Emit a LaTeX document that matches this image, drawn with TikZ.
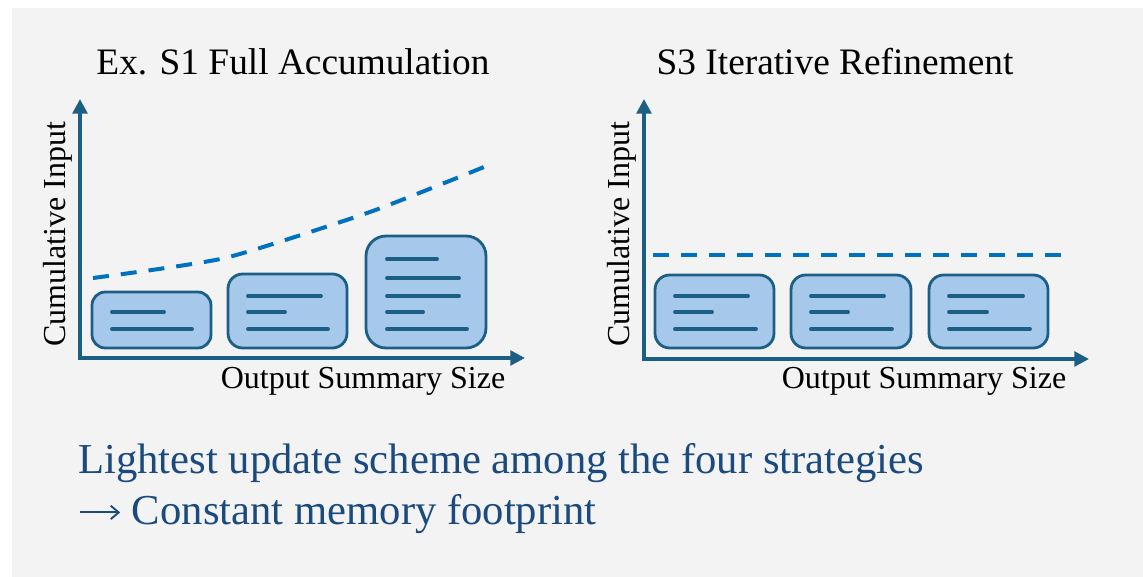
\documentclass[tikz,border=0pt]{standalone}
\usepackage{fontspec}
\setmainfont{Liberation Serif}
\usetikzlibrary{arrows.meta}
\definecolor{panelgray}{HTML}{F3F3F3}
\definecolor{axisblue}{HTML}{1C5F85}
\definecolor{boxfill}{HTML}{A6C8EA}
\definecolor{dashblue}{HTML}{0070C0}
\definecolor{noteblue}{HTML}{1B4A7E}
\tikzset{
  axis/.style={draw=axisblue, line width=2.6pt, -{Triangle[length=11pt,width=11pt]}},
  doc/.style={draw=axisblue, fill=boxfill, line width=2.1pt, rounded corners=#1},
  doc/.default=10pt,
  txtline/.style={draw=axisblue, line width=2.9pt, line cap=round},
  trend/.style={draw=dashblue, line width=3pt, dash pattern=on 12pt off 9pt},
  ttl/.style={font=\fontsize{28}{32}\selectfont, text=black, inner sep=0pt},
  lbl/.style={font=\fontsize{24}{28}\selectfont, text=black, inner sep=0pt},
  note/.style={font=\fontsize{32}{38}\selectfont, text=noteblue, inner sep=0pt, anchor=west}
}
% long thin text arrow for the takeaway line
\newcommand{\notearrow}{\tikz[baseline=-9pt]\draw[draw=noteblue, line width=1.4pt,
  -{Straight Barb[length=6pt,width=10pt,line width=1.4pt]}] (0pt,0pt) -- (30pt,0pt);}
\begin{document}
\begin{tikzpicture}[x=0.75pt, y=-0.75pt]
% canvas and grey panel
\useasboundingbox (0,0) rectangle (1143,577);
\fill[white] (0,0) rectangle (1143,577);
\fill[panelgray] (12,8) rectangle (1143,577);

% ---------- left chart: full accumulation ----------
\node[ttl] (t1) at (293,62) {Ex. S1 Full Accumulation};
\coordinate (o1) at (80,358);
\coordinate (ytip1) at (80,99);
\coordinate (xtip1) at (525,358);
\draw[axis] ([yshift=-1.3pt]o1) -- (ytip1);
\draw[axis] ([xshift=-1.3pt]o1) -- (xtip1);
\node[lbl, rotate=90] (yl1) at (58,234) {Cumulative Input};
\node[lbl] (xl1) at (363,381) {Output Summary Size};

\draw[doc=10pt] (92,292) rectangle (211,348);
\draw[txtline] (112,312) -- (164,312);
\draw[txtline] (112,329) -- (192,329);

\draw[doc=11pt] (228,274) rectangle (347,348);
\draw[txtline] (248,296) -- (321,296);
\draw[txtline] (248,312) -- (285,312);
\draw[txtline] (248,329) -- (328,329);

\draw[doc=15pt] (366,236) rectangle (486,348);
\draw[txtline] (387,259) -- (437,259);
\draw[txtline] (387,278) -- (459,278);
\draw[txtline] (387,296) -- (459,296);
\draw[txtline] (387,312) -- (423,312);
\draw[txtline] (387,329) -- (467,329);

\draw[trend] plot[smooth, tension=0.35] coordinates {(93,278) (225,258) (370,212) (484,167)};

% ---------- right chart: iterative refinement ----------
\node[ttl] (t2) at (835,62) {S3 Iterative Refinement};
\coordinate (o2) at (644,359);
\coordinate (ytip2) at (644,99);
\coordinate (xtip2) at (1089,359);
\draw[axis] ([yshift=-1.3pt]o2) -- (ytip2);
\draw[axis] ([xshift=-1.3pt]o2) -- (xtip2);
\node[lbl, rotate=90] (yl2) at (622,234) {Cumulative Input};
\node[lbl] (xl2) at (924,381) {Output Summary Size};

\draw[doc=11pt] (655,275) rectangle (774,348);
\draw[txtline] (675,296) -- (748,296);
\draw[txtline] (675,312) -- (712,312);
\draw[txtline] (675,329) -- (756,329);

\draw[doc=11pt] (791,275) rectangle (911,348);
\draw[txtline] (811,296) -- (884,296);
\draw[txtline] (811,312) -- (848,312);
\draw[txtline] (811,329) -- (892,329);

\draw[doc=11pt] (929,275) rectangle (1048,348);
\draw[txtline] (949,296) -- (1023,296);
\draw[txtline] (949,312) -- (987,312);
\draw[txtline] (949,329) -- (1030,329);

\draw[trend] (653,255) -- (1062,255);

% ---------- takeaway ----------
\node[note] (n1) at (78,463) {Lightest update scheme among the four strategies};
\node[note] (n2) at (79,514) {\notearrow\ Constant memory footprint};
\end{tikzpicture}
\end{document}
